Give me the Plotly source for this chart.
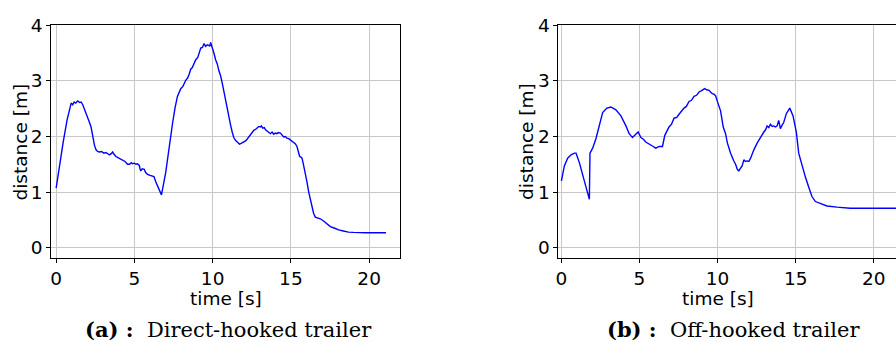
import plotly.graph_objects as go

# Direct-hooked trailer (a)
t_a = [0.00, 0.20, 0.45, 0.70, 0.96, 1.06, 1.15, 1.25, 1.38, 1.50, 1.60, 1.70, 1.85, 2.02, 2.12, 2.23, 2.30, 2.34, 2.45, 2.55, 2.65, 2.76, 2.90, 3.05, 3.18, 3.30, 3.40, 3.52, 3.61, 3.70, 3.82, 3.95, 4.10, 4.25, 4.40, 4.56, 4.70, 4.80, 4.88, 5.00, 5.10, 5.20, 5.31, 5.36, 5.41, 5.50, 5.63, 5.72, 5.84, 6.00, 6.16, 6.25, 6.37, 6.48, 6.58, 6.65, 6.73,
       7.00, 7.20, 7.43, 7.60, 7.75, 7.96, 8.10, 8.28, 8.40, 8.50, 8.60, 8.70, 8.80, 8.92, 9.05, 9.15, 9.24, 9.35, 9.45, 9.55, 9.66, 9.75, 9.82, 9.87, 9.93, 9.98, 10.08, 10.19, 10.30, 10.40, 10.50, 10.62, 10.72, 10.83, 10.94, 11.04, 11.15, 11.25, 11.35, 11.46, 11.60, 11.72, 11.85, 12.00, 12.10, 12.20, 12.31, 12.40, 12.50, 12.63, 12.75, 12.85, 12.95, 13.05, 13.12, 13.20, 13.30, 13.38, 13.50, 13.60, 13.69, 13.80, 13.90, 14.00, 14.10, 14.20, 14.33, 14.40, 14.54, 14.65, 14.75, 14.86, 14.95, 15.05, 15.18, 15.28, 15.39, 15.48, 15.56, 15.64, 15.71, 15.80, 15.92, 16.03, 16.14, 16.25, 16.35, 16.45, 16.56, 16.70, 16.88, 17.09, 17.30, 17.52, 17.80, 18.05, 18.35, 18.68, 19.00, 19.32, 19.80, 20.40, 21.08]
d_a = [1.07, 1.45, 1.90, 2.30, 2.60, 2.57, 2.62, 2.60, 2.64, 2.61, 2.62, 2.57, 2.47, 2.34, 2.26, 2.17, 2.05, 1.96, 1.84, 1.76, 1.73, 1.72, 1.73, 1.70, 1.71, 1.69, 1.67, 1.69, 1.72, 1.68, 1.64, 1.62, 1.60, 1.57, 1.55, 1.50, 1.50, 1.53, 1.51, 1.52, 1.50, 1.51, 1.48, 1.42, 1.38, 1.42, 1.41, 1.35, 1.32, 1.30, 1.29, 1.28, 1.18, 1.10, 1.05, 1.00, 0.95,
       1.35, 1.80, 2.22, 2.52, 2.72, 2.86, 2.90, 3.01, 3.05, 3.12, 3.21, 3.24, 3.30, 3.38, 3.42, 3.52, 3.59, 3.60, 3.67, 3.62, 3.65, 3.64, 3.62, 3.69, 3.64, 3.59, 3.50, 3.38, 3.30, 3.18, 3.10, 2.95, 2.80, 2.63, 2.48, 2.34, 2.20, 2.08, 1.98, 1.93, 1.90, 1.86, 1.88, 1.90, 1.92, 1.95, 1.99, 2.03, 2.06, 2.11, 2.13, 2.16, 2.18, 2.17, 2.19, 2.15, 2.16, 2.12, 2.10, 2.07, 2.05, 2.08, 2.04, 2.06, 2.05, 2.07, 2.06, 2.03, 1.99, 2.00, 1.97, 1.96, 1.94, 1.93, 1.90, 1.87, 1.82, 1.72, 1.64, 1.63, 1.61, 1.50, 1.35, 1.18, 1.00, 0.85, 0.71, 0.62, 0.55, 0.54, 0.52, 0.48, 0.43, 0.38, 0.35, 0.32, 0.30, 0.28, 0.275, 0.27, 0.27, 0.27, 0.27]

# Off-hooked trailer (b)
t_b = [0.00, 0.19, 0.40, 0.62, 0.83, 0.94, 1.15, 1.36, 1.57, 1.79, 1.83, 2.00, 2.21, 2.43, 2.64, 2.91, 3.17, 3.49, 3.81, 4.13, 4.34, 4.55, 4.77, 4.91, 5.09, 5.25, 5.40, 5.55, 5.72, 5.88, 6.04, 6.26, 6.47, 6.62, 6.89, 7.05, 7.21, 7.37, 7.53, 7.70, 7.85, 8.00, 8.17, 8.33, 8.49, 8.65, 8.81, 8.95, 9.07, 9.17, 9.30, 9.45, 9.55, 9.66, 9.77, 9.87, 10.02, 10.19, 10.36, 10.51, 10.62, 10.83, 11.04, 11.15, 11.26, 11.36, 11.45, 11.57, 11.68, 11.78, 11.89, 12.00, 12.11, 12.22, 12.32, 12.53, 12.74, 12.85, 12.96, 13.07, 13.17, 13.28, 13.38, 13.50, 13.60, 13.70, 13.81, 13.91, 14.02, 14.12, 14.23, 14.40, 14.62, 14.83, 15.04, 15.19, 15.40, 15.62, 15.83, 16.04, 16.26, 16.57, 17.00, 17.64, 18.49, 19.55, 20.50, 21.60]
d_b = [1.20, 1.47, 1.61, 1.67, 1.70, 1.70, 1.53, 1.32, 1.09, 0.87, 1.70, 1.79, 1.96, 2.22, 2.43, 2.51, 2.53, 2.48, 2.37, 2.19, 2.05, 1.98, 2.04, 2.08, 1.98, 1.95, 1.90, 1.87, 1.85, 1.82, 1.79, 1.82, 1.82, 2.02, 2.17, 2.22, 2.33, 2.34, 2.40, 2.46, 2.51, 2.54, 2.63, 2.65, 2.72, 2.74, 2.80, 2.82, 2.84, 2.86, 2.84, 2.83, 2.80, 2.77, 2.76, 2.73, 2.60, 2.46, 2.17, 2.05, 1.89, 1.70, 1.56, 1.50, 1.41, 1.38, 1.42, 1.47, 1.58, 1.55, 1.56, 1.55, 1.61, 1.70, 1.76, 1.88, 1.99, 2.03, 2.08, 2.12, 2.19, 2.16, 2.22, 2.18, 2.19, 2.17, 2.19, 2.29, 2.14, 2.20, 2.25, 2.41, 2.51, 2.37, 2.08, 1.70, 1.47, 1.27, 1.09, 0.92, 0.83, 0.80, 0.75, 0.73, 0.71, 0.71, 0.71, 0.71]

x_ticks = [0, 5, 10, 15, 20]
y_ticks = [0, 1, 2, 3, 4]
x_title = "time [s]"
y_title = "distance [m]"
captions = ["<b>(a) :</b>  Direct-hooked trailer", "<b>(b) :</b>  Off-hooked trailer"]

W, H = 896, 342
fig = go.Figure()
fig.add_trace(go.Scatter(x=t_a, y=d_a, mode="lines", line=dict(color="#0000ff", width=1.4),
                         xaxis="x", yaxis="y", showlegend=False))
fig.add_trace(go.Scatter(x=t_b, y=d_b, mode="lines", line=dict(color="#0000ff", width=1.4),
                         xaxis="x2", yaxis="y2", showlegend=False))

tick_font = dict(family="DejaVu Sans", size=18.5, color="black")
common_ax = dict(showline=True, linecolor="black", linewidth=1, ticks="outside", ticklen=4,
                 tickcolor="black", tickwidth=1, showgrid=True, gridcolor="#c8c8c8", gridwidth=1,
                 zeroline=False, tickfont=tick_font)

ydom = [1 - 255.5 / H, 1 - 14.7 / H]
fig.update_layout(
    width=W, height=H, margin=dict(l=0, r=0, t=0, b=0),
    paper_bgcolor="white", plot_bgcolor="white",
    xaxis=dict(domain=[48.3 / W, 398.3 / W], range=[-0.32, 21.97], tickvals=x_ticks, mirror=True,
               anchor="y", **common_ax),
    yaxis=dict(domain=ydom, range=[-0.19, 4.0], tickvals=y_ticks, mirror=True, anchor="x", **common_ax),
    xaxis2=dict(domain=[557.3 / W, 1.0], range=[-0.19, 21.42], tickvals=x_ticks, mirror=True,
                anchor="y2", **common_ax),
    yaxis2=dict(domain=ydom, range=[-0.19, 4.0], tickvals=y_ticks, mirror=False, anchor="x2", **common_ax),
)

def ann(text, x, y, font, angle=0):
    fig.add_annotation(text=text, x=x / W, y=1 - y / H, xref="paper", yref="paper", showarrow=False,
                       font=font, xanchor="center", yanchor="middle", textangle=angle)

# axis titles
ann(x_title, 224, 297, tick_font)
ann(x_title, 717, 297, tick_font)
ann(y_title, 18, 135, tick_font, -90)
ann(y_title, 525, 135, tick_font, -90)

cap_font = dict(family="DejaVu Serif", size=21, color="black")
ann(captions[0], 226, 329, cap_font)
ann(captions[1], 733, 329, cap_font)

fig.write_html("out.html")
